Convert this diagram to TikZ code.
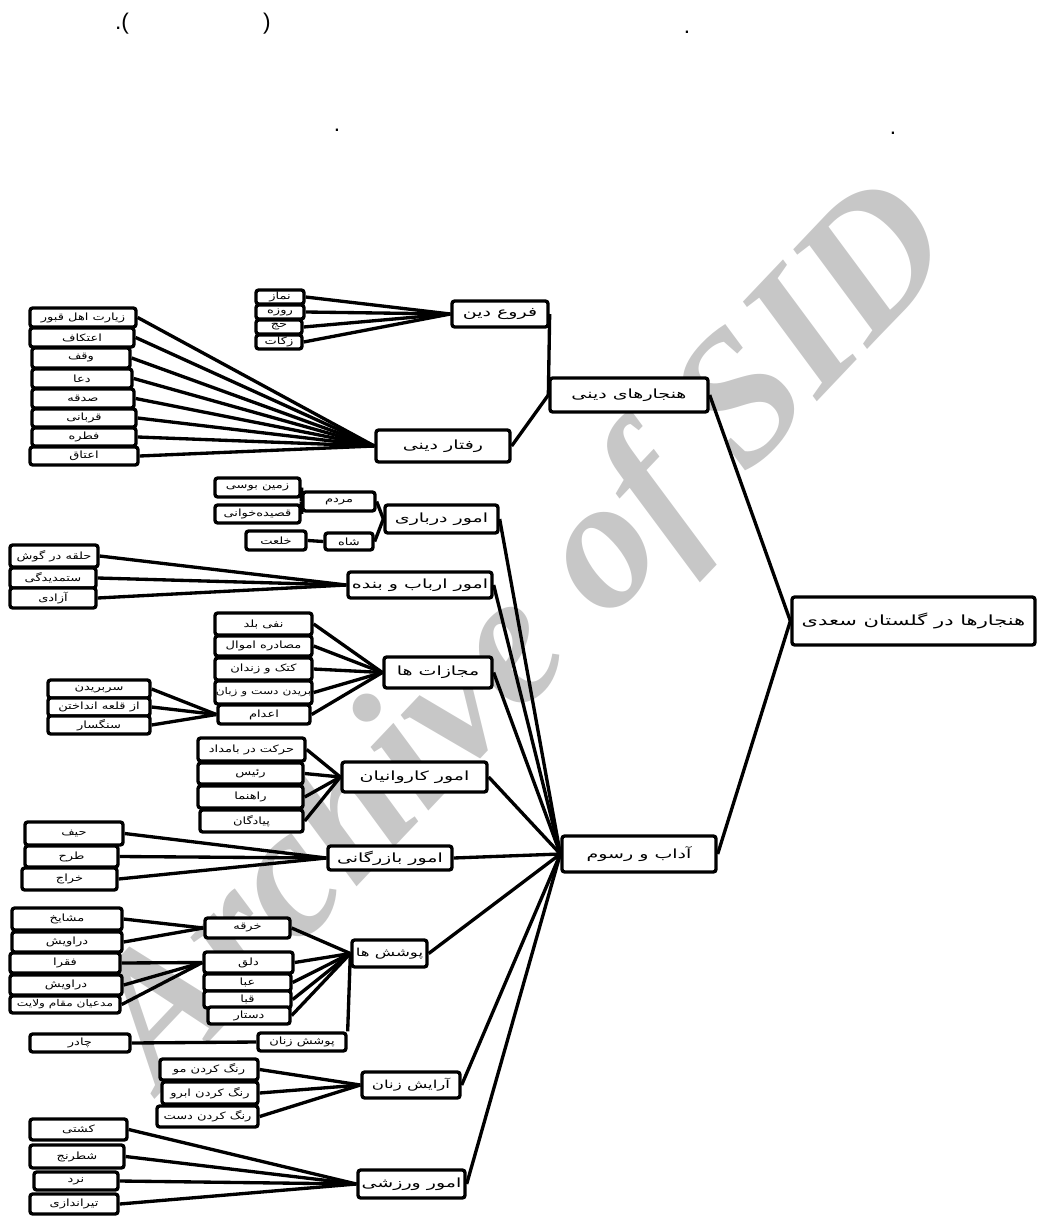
\documentclass[tikz,border=0pt]{standalone}
\usepackage{fontspec}
\newfontfamily\fa[Script=Arabic, FakeStretch=1.3]{DejaVu Sans}
\newfontfamily\faw[Script=Arabic, FakeStretch=1.5]{DejaVu Sans}
\newfontfamily\wmfont{Liberation Serif}
\newfontfamily\mkfont{Liberation Sans}
\TeXXeTstate=1
\tikzset{
  bx/.style={draw, line width=2.5pt, rounded corners=2pt, fill=white, inner sep=0pt,
    font=\fa\fontsize{7.5}{8}\selectfont},
  sbx/.style={bx, font=\fa\fontsize{7}{8}\selectfont},
  bbx/.style={bx, font=\faw\fontsize{9.5}{10}\selectfont},
  mbx/.style={bx, font=\faw\fontsize{8.3}{9}\selectfont},
  rbx/.style={bx, font=\faw\fontsize{10.5}{11}\selectfont},
  ln/.style={line width=2.5pt},
  tmark/.style={font=\mkfont\fontsize{17}{17}\selectfont, inner sep=0pt, anchor=base}
}
\newcommand\bx[7][bx]{\node[#1, minimum width={(#5-#3)*0.75pt}, minimum height={(#6-#4)*0.75pt}] (#2) at ({(#3+#5)/2},{(#4+#6)/2}) {#7};}
\begin{document}
\begin{tikzpicture}[x=0.75pt, y=-0.75pt]
\useasboundingbox (0,0) rectangle (1037,1216);
% watermark
\node[rotate=46.5, text=black!22, font=\wmfont\bfseries\itshape\fontsize{140}{140}\selectfont, inner sep=0pt] (wm) at (528,640) {Archive of SID};
% top marks
\node[tmark] (t1) at (122,30) {.(};
\node[tmark] (t2) at (267,30) {)};
\node[tmark] (t3) at (687,34) {.};
\node[tmark] (t4) at (337,132) {.};
\node[tmark] (t5) at (893,135) {.};
% main boxes
\bx[rbx]{root}{792}{597}{1035}{645}{\beginR هنجارها در گلستان سعدی\endR}
\bx[bbx]{hd}{550}{378}{708}{412}{\beginR هنجارهای دینی\endR}
\bx[bbx]{adab}{562}{836}{716}{872}{\beginR آداب و رسوم\endR}
\bx[bbx]{foru}{452}{301}{548}{327}{\beginR فروع دین\endR}
\bx[bbx]{raftar}{376}{430}{510}{462}{\beginR رفتار دینی\endR}
\bx{namaz}{256}{290}{304}{304}{\beginR نماز\endR}
\bx{rooze}{256}{305}{304}{319}{\beginR روزه\endR}
\bx{hajj}{256}{320}{302}{334}{\beginR حج\endR}
\bx{zakat}{256}{335}{302}{349}{\beginR زکات\endR}
\bx{r1}{30}{308}{136}{327}{\beginR زیارت اهل قبور\endR}
\bx{r2}{30}{328}{134}{347}{\beginR اعتکاف\endR}
\bx{r3}{32}{348}{130}{368}{\beginR وقف\endR}
\bx{r4}{32}{369}{132}{388}{\beginR دعا\endR}
\bx{r5}{32}{389}{134}{408}{\beginR صدقه\endR}
\bx{r6}{32}{409}{136}{427}{\beginR قربانی\endR}
\bx{r7}{32}{428}{136}{446}{\beginR فطره\endR}
\bx{r8}{30}{447}{138}{465}{\beginR اعتاق\endR}
\bx[bbx]{darbari}{385}{505}{498}{533}{\beginR امور درباری\endR}
\bx{mardom}{303}{492}{375}{511}{\beginR مردم\endR}
\bx{shah}{325}{533}{373}{550}{\beginR شاه\endR}
\bx{zamin}{215}{478}{300}{497}{\beginR زمین بوسی\endR}
\bx{qaside}{215}{505}{300}{523}{\beginR قصیده‌خوانی\endR}
\bx{khalat}{246}{531}{306}{550}{\beginR خلعت\endR}
\bx[bbx]{arbab}{348}{572}{492}{598}{\beginR امور ارباب و بنده\endR}
\bx{a1}{10}{545}{98}{567}{\beginR حلقه در گوش\endR}
\bx{a2}{10}{568}{96}{588}{\beginR ستمدیدگی\endR}
\bx{a3}{10}{588}{96}{608}{\beginR آزادی\endR}
\bx[bbx]{mojazat}{384}{657}{492}{688}{\beginR مجازات ها\endR}
\bx{m1}{215}{613}{312}{635}{\beginR نفی بلد\endR}
\bx{m2}{215}{636}{312}{656}{\beginR مصادره اموال\endR}
\bx{m3}{215}{658}{312}{680}{\beginR کتک و زندان\endR}
\bx[sbx]{m4}{215}{681}{312}{704}{\beginR بریدن دست و زبان\endR}
\bx{m5}{218}{705}{310}{724}{\beginR اعدام\endR}
\bx{e1}{48}{680}{150}{698}{\beginR سربریدن\endR}
\bx{e2}{48}{698}{150}{716}{\beginR از قلعه انداختن\endR}
\bx{e3}{48}{716}{150}{734}{\beginR سنگسار\endR}
\bx[bbx]{karvan}{342}{762}{487}{792}{\beginR امور کاروانیان\endR}
\bx{k1}{198}{738}{305}{761}{\beginR حرکت در بامداد\endR}
\bx{k2}{198}{763}{303}{784}{\beginR رئیس\endR}
\bx{k3}{198}{786}{303}{808}{\beginR راهنما\endR}
\bx{k4}{200}{810}{303}{832}{\beginR پیادگان\endR}
\bx[bbx]{bazar}{328}{846}{452}{870}{\beginR امور بازرگانی\endR}
\bx{b1}{25}{822}{123}{845}{\beginR حیف\endR}
\bx{b2}{25}{846}{118}{867}{\beginR طرح\endR}
\bx{b3}{22}{868}{117}{890}{\beginR خراج\endR}
\bx[mbx]{pooshesh}{352}{940}{427}{967}{\beginR پوشش ها\endR}
\bx{p1}{205}{918}{290}{938}{\beginR خرقه\endR}
\bx{p2}{204}{952}{293}{973}{\beginR دلق\endR}
\bx{p3}{204}{974}{291}{991}{\beginR عبا\endR}
\bx{p4}{204}{991}{291}{1008}{\beginR قبا\endR}
\bx{p5}{208}{1007}{290}{1024}{\beginR دستار\endR}
\bx{pz}{258}{1033}{346}{1051}{\beginR پوشش زنان\endR}
\bx{chador}{30}{1034}{130}{1052}{\beginR چادر\endR}
\bx{s1}{12}{908}{122}{930}{\beginR مشایخ\endR}
\bx{s2}{12}{932}{122}{952}{\beginR دراویش\endR}
\bx{s3}{10}{953}{120}{973}{\beginR فقرا\endR}
\bx{s4}{10}{975}{122}{995}{\beginR دراویش\endR}
\bx[sbx]{s5}{10}{996}{120}{1013}{\beginR مدعیان مقام ولایت\endR}
\bx[mbx]{arayesh}{362}{1072}{460}{1098}{\beginR آرایش زنان\endR}
\bx{z1}{160}{1059}{258}{1080}{\beginR رنگ کردن مو\endR}
\bx{z2}{162}{1082}{258}{1104}{\beginR رنگ کردن ابرو\endR}
\bx{z3}{157}{1106}{258}{1127}{\beginR رنگ کردن دست\endR}
\bx[bbx]{varzesh}{358}{1170}{465}{1198}{\beginR امور ورزشی\endR}
\bx{v1}{30}{1119}{127}{1140}{\beginR کشتی\endR}
\bx{v2}{30}{1145}{124}{1168}{\beginR شطرنج\endR}
\bx{v3}{34}{1172}{118}{1190}{\beginR نرد\endR}
\bx{v4}{30}{1194}{118}{1214}{\beginR تیراندازی\endR}
% connectors
\draw[ln] (hd.east) -- (root.west);
\draw[ln] (adab.east) -- (root.west);
\draw[ln] (foru.east) -- (hd.west);
\draw[ln] (raftar.east) -- (hd.west);
\foreach \c in {namaz,rooze,hajj,zakat} \draw[ln] (\c.east) -- (foru.west);
\foreach \c in {r1,r2,r3,r4,r5,r6,r7,r8} \draw[ln] (\c.east) -- (raftar.west);
\foreach \c in {darbari,arbab,mojazat,karvan,bazar,pooshesh,arayesh,varzesh} \draw[ln] (\c.east) -- (adab.west);
\draw[ln] (zamin.east) -- (mardom.west);
\draw[ln] (qaside.east) -- (mardom.west);
\draw[ln] (mardom.east) -- (darbari.west);
\draw[ln] (shah.east) -- (darbari.west);
\draw[ln] (khalat.east) -- (shah.west);
\foreach \c in {a1,a2,a3} \draw[ln] (\c.east) -- (arbab.west);
\foreach \c in {m1,m2,m3,m4,m5} \draw[ln] (\c.east) -- (mojazat.west);
\foreach \c in {e1,e2,e3} \draw[ln] (\c.east) -- (m5.west);
\foreach \c in {k1,k2,k3,k4} \draw[ln] (\c.east) -- (karvan.west);
\foreach \c in {b1,b2,b3} \draw[ln] (\c.east) -- (bazar.west);
\foreach \c in {p1,p2,p3,p4,p5} \draw[ln] (\c.east) -- (pooshesh.west);
\draw[ln] (pooshesh.west) -- (pz.north east);
\draw[ln] (chador.east) -- (pz.west);
\foreach \c in {s1,s2} \draw[ln] (\c.east) -- (p1.west);
\foreach \c in {s3,s4,s5} \draw[ln] (\c.east) -- (p2.west);
\foreach \c in {z1,z2,z3} \draw[ln] (\c.east) -- (arayesh.west);
\foreach \c in {v1,v2,v3,v4} \draw[ln] (\c.east) -- (varzesh.west);
\end{tikzpicture}
\end{document}
